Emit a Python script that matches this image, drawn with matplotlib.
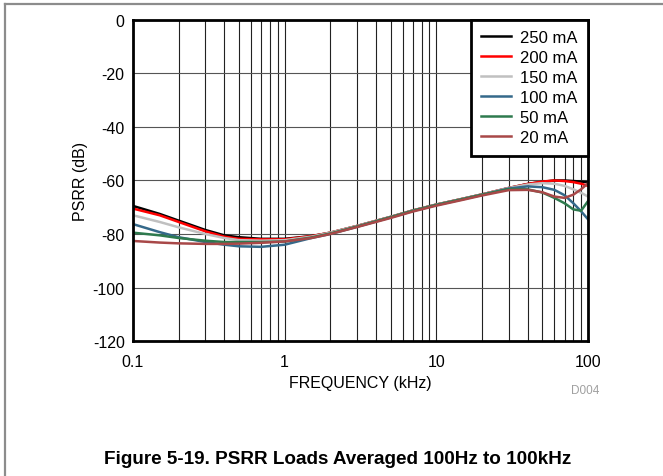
import numpy as np
import matplotlib.pyplot as plt
from matplotlib.lines import Line2D


###########################################################################
# rcParams setting
###########################################################################

plt.rcParams["font.family"] = ["Liberation Sans", "DejaVu Sans"]
plt.rcParams["font.size"] = 11.5
plt.rcParams["axes.linewidth"] = 2.0
plt.rcParams["legend.frameon"] = True
plt.rcParams["legend.fancybox"] = False


###########################################################################
# Data
###########################################################################

freq_khz = [0.1, 0.15, 0.2, 0.3, 0.4, 0.5, 0.7, 1, 1.5, 2, 3, 5, 7, 10,
            15, 20, 30, 40, 50, 60, 70, 80, 90, 100]

psrr_250ma = [-69.5, -72.5, -75.0, -78.5, -80.5, -81.2, -81.8, -81.8, -80.8,
              -79.5, -77.0, -73.6, -71.2, -69.0, -66.8, -65.2, -62.8, -61.3,
              -60.5, -60.0, -60.0, -60.2, -60.4, -60.6]
psrr_200ma = [-70.5, -73.0, -75.5, -79.0, -81.0, -81.8, -82.0, -82.0, -80.8,
              -79.5, -77.0, -73.6, -71.2, -69.0, -66.8, -65.2, -62.8, -61.3,
              -60.4, -60.0, -60.2, -60.6, -61.2, -62.0]
psrr_150ma = [-73.0, -75.5, -77.5, -80.0, -81.5, -82.3, -82.5, -82.3, -81.0,
              -79.5, -77.0, -73.6, -71.2, -69.0, -66.8, -65.2, -62.8, -61.5,
              -61.0, -61.2, -62.0, -63.3, -64.6, -66.0]
psrr_100ma = [-76.3, -79.3, -81.2, -83.0, -84.0, -84.6, -84.8, -84.0, -81.5,
              -80.0, -77.3, -73.8, -71.4, -69.2, -67.0, -65.4, -63.0, -62.2,
              -62.5, -63.5, -65.5, -68.5, -71.5, -74.5]
psrr_50ma = [-79.5, -80.5, -81.5, -82.5, -83.0, -83.0, -83.0, -82.8, -81.3,
             -79.8, -77.2, -73.7, -71.3, -69.1, -66.9, -65.3, -63.2, -63.3,
             -64.5, -66.5, -68.5, -70.8, -71.3, -67.7]
psrr_20ma = [-82.6, -83.2, -83.5, -83.7, -83.7, -83.6, -83.3, -82.8, -81.5,
             -80.0, -77.4, -74.0, -71.6, -69.4, -67.2, -65.6, -63.6, -63.5,
             -64.4, -66.0, -66.5, -65.3, -63.3, -61.0]

series = [
    ("250 mA", psrr_250ma, "#000000"),
    ("200 mA", psrr_200ma, "#ff0000"),
    ("150 mA", psrr_150ma, "#c0c0c0"),
    ("100 mA", psrr_100ma, "#35698a"),
    ("50 mA", psrr_50ma, "#2e7a4e"),
    ("20 mA", psrr_20ma, "#a84848"),
]

y_ticks = [0, -20, -40, -60, -80, -100, -120]
x_ticks = [0.1, 1, 10, 100]
x_ticklabels = ["0.1", "1", "10", "100"]


###########################################################################
# Plot
###########################################################################

fig = plt.figure(figsize=(6.63, 4.77), dpi=100)
ax = fig.add_axes([0.2006, 0.283, 0.6863, 0.673])

for label, values, color in series:
    ax.plot(freq_khz, values, color=color, linewidth=1.8, label=label)

ax.set_xscale("log")
ax.set_xlim(0.1, 100)
ax.set_ylim(-120, 0)
ax.set_xticks(x_ticks)
ax.set_xticklabels(x_ticklabels)
ax.set_yticks(y_ticks)
ax.set_yticklabels([str(v) for v in y_ticks])

# grid
ax.grid(True, which="major", axis="y", color="#555555", linewidth=0.8)
ax.grid(True, which="both", axis="x", color="#222222", linewidth=0.8)
ax.tick_params(which="both", length=0)
ax.tick_params(axis="x", pad=9)
ax.tick_params(axis="y", pad=6)

ax.set_xlabel("FREQUENCY (kHz)", labelpad=5)
ax.set_ylabel("PSRR (dB)", labelpad=3)

leg = ax.legend(loc="upper right", borderaxespad=0.0, framealpha=1.0,
                edgecolor="black", fontsize=12, labelspacing=0.3,
                handlelength=1.8, handletextpad=0.55, borderpad=0.62)
leg.get_frame().set_linewidth(2.0)

# figure decorations
fig.text(0.9035, 0.18, "D004", color="#a0a0a0", fontsize=8.5, ha="right",
         va="center")
fig.text(0.509, 0.036, "Figure 5-19. PSRR Loads Averaged 100Hz to 100kHz",
         fontsize=13.6, fontweight="bold", ha="center", va="center")

fig.add_artist(Line2D([5 / 663, 5 / 663], [0, 1 - 5 / 477],
                      color="#8c8c8c", linewidth=1.6))
fig.add_artist(Line2D([5 / 663, 662 / 663], [1 - 5 / 477, 1 - 5 / 477],
                      color="#8c8c8c", linewidth=1.6))

# save
plt.savefig("out.png", dpi=100)
